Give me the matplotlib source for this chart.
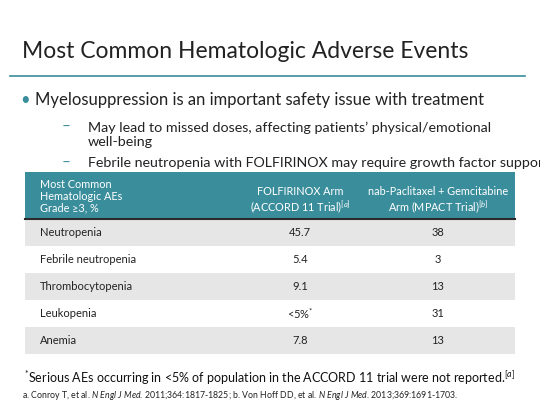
import matplotlib.pyplot as plt
from matplotlib.patches import Rectangle

plt.rcParams['font.family'] = ['Lato', 'DejaVu Sans']
plt.rcParams['mathtext.fontset'] = 'custom'
plt.rcParams['mathtext.rm'] = 'Lato'
plt.rcParams['mathtext.it'] = 'Lato:italic'

title = "Most Common Hematologic Adverse Events"
bullet = "Myelosuppression is an important safety issue with treatment"
subs = ["May lead to missed doses, affecting patients’ physical/emotional\nwell-being",
        "Febrile neutropenia with FOLFIRINOX may require growth factor support"]
header = ["Most Common\nHematologic AEs\nGrade ≥3, %",
          "FOLFIRINOX Arm\n(ACCORD 11 Trial)$^{[a]}$",
          "nab-Paclitaxel + Gemcitabine\nArm (MPACT Trial)$^{[b]}$"]
events = ["Neutropenia", "Febrile neutropenia", "Thrombocytopenia", "Leukopenia", "Anemia"]
folfirinox = ["45.7", "5.4", "9.1", "<5%$^{*}$", "7.8"]
mpact = ["38", "3", "13", "31", "13"]

teal = "#3a8e9c"
fig = plt.figure(figsize=(5.4, 4.05), dpi=100)
ax = fig.add_axes([0, 0, 1, 1])
ax.set_xlim(0, 540)
ax.set_ylim(405, 0)
ax.axis('off')

ax.text(22, 52, title, fontsize=16.5, color="#222222", va='center')
ax.plot([10, 525], [76, 76], color=teal, lw=1.2)
ax.text(20, 100, "•", fontsize=12, color=teal, va='center')
ax.text(35, 100, bullet, fontsize=12, color="#222222", va='center')
ax.text(62, 127, "–", fontsize=11, color=teal, va='center')
ax.text(88, 135, subs[0], fontsize=10.3, color="#222222", va='center', linespacing=1.15)
ax.text(62, 163, "–", fontsize=11, color=teal, va='center')
ax.text(88, 163, subs[1], fontsize=10.3, color="#222222", va='center')

x0, x1 = 25, 515
ax.add_patch(Rectangle((x0, 172), x1 - x0, 47, color=teal, lw=0))
ax.plot([x0, x1], [219, 219], color="#2a2a2a", lw=1.5)
hx = [40, 300, 438]
ax.text(hx[0], 196, header[0], fontsize=7.8, color="white", va='center', ha='left', linespacing=1.05)
ax.text(hx[1], 201, header[1], fontsize=7.8, color="white", va='center', ha='center', linespacing=1.15)
ax.text(hx[2], 201, header[2], fontsize=7.8, color="white", va='center', ha='center', linespacing=1.15)

rh = 27
for i, (e, f, m) in enumerate(zip(events, folfirinox, mpact)):
    top = 219 + i * rh
    ax.add_patch(Rectangle((x0, top), x1 - x0, rh,
                           color="#e6e6e6" if i % 2 == 0 else "white", lw=0))
    cy = top + rh / 2
    ax.text(40, cy, e, fontsize=8, color="#222222", va='center')
    ax.text(hx[1], cy, f, fontsize=8, color="#222222", va='center', ha='center')
    ax.text(hx[2], cy, m, fontsize=8, color="#222222", va='center', ha='center')

ax.text(270, 378, "$^{*}$Serious AEs occurring in <5% of population in the ACCORD 11 trial were not reported.$^{[a]}$",
        fontsize=9, color="#111111", va='center', ha='center')
ax.text(22, 396, "a. Conroy T, et al. $\\it{N\\ Engl\\ J\\ Med}$. 2011;364:1817-1825; b. Von Hoff DD, et al. "
        "$\\it{N\\ Engl\\ J\\ Med}$. 2013;369:1691-1703.",
        fontsize=6.3, color="#222222", va='center')

fig.savefig("out.png", dpi=100)
